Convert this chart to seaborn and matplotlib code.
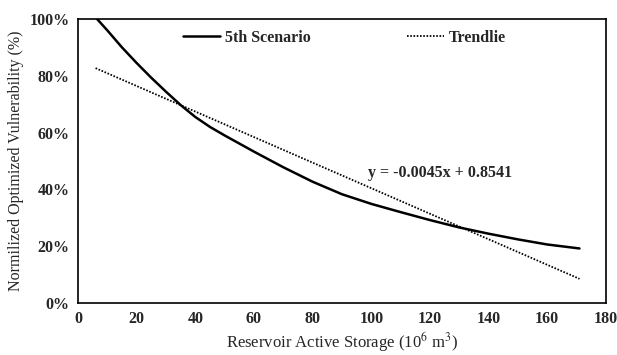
import matplotlib
matplotlib.use("Agg")
import matplotlib.pyplot as plt
import seaborn as sns
import pandas as pd
from matplotlib.ticker import MultipleLocator, PercentFormatter

sns.set_theme(style="white")
plt.rcParams['font.family'] = ['Liberation Serif', 'DejaVu Serif']
plt.rcParams['mathtext.fontset'] = 'stix'

storage = [6.5, 10, 15, 20, 25, 30, 35, 40, 45, 50, 60, 70, 80, 90, 100, 110, 120, 130, 140, 150, 160, 171]
vulner = [1.00, 0.960, 0.900, 0.845, 0.793, 0.744, 0.697, 0.655, 0.620, 0.590, 0.533, 0.478, 0.427,
          0.383, 0.349, 0.320, 0.292, 0.266, 0.244, 0.224, 0.206, 0.192]
trend_x = [6, 171]
trend_y = [0.827, 0.085]
equation = "y = -0.0045x + 0.8541"

df = pd.DataFrame({"x": storage, "y": vulner})
dt = pd.DataFrame({"x": trend_x, "y": trend_y})

fig = plt.figure(figsize=(6.17, 3.55), dpi=100)
ax = fig.add_axes([0.1264, 0.1465, 0.8556, 0.80])

sns.lineplot(data=df, x="x", y="y", ax=ax, color="black", linewidth=1.8, label="5th Scenario")
sns.lineplot(data=dt, x="x", y="y", ax=ax, color="black", linewidth=1.3, linestyle=(0, (0.9, 0.9)), label="Trendlie")

ax.set_xlim(0, 180)
ax.set_ylim(0, 1.0)
ax.xaxis.set_major_locator(MultipleLocator(20))
ax.xaxis.set_minor_locator(MultipleLocator(4))
ax.yaxis.set_major_locator(MultipleLocator(0.2))
ax.yaxis.set_minor_locator(MultipleLocator(0.04))
ax.yaxis.set_major_formatter(PercentFormatter(1.0, decimals=0))
ax.tick_params(axis="both", which="both", direction="in", color="black", width=1)
ax.tick_params(axis="both", which="major", length=5, labelsize=11.5, pad=6)
ax.tick_params(axis="both", which="minor", length=3)
ax.tick_params(top=False, right=False, which="both")
for lab in ax.get_xticklabels() + ax.get_yticklabels():
    lab.set_fontweight("bold")
for s in ax.spines.values():
    s.set_color("black")
    s.set_linewidth(1.2)

ax.set_xlabel("Reservoir Active Storage (10$^{6}$ m$^{3}$)", fontsize=12, labelpad=2)
ax.set_ylabel("Normilized Optimized Vulnerability (%)", fontsize=11.5, labelpad=4)

ax.text(99, 0.458, equation, fontsize=11.5, fontweight="bold", va="center")

leg = ax.legend(loc="upper center", bbox_to_anchor=(0.505, 1.012), ncol=2, frameon=False,
                fontsize=11.5, handlelength=2.3, columnspacing=6.0, handletextpad=0.35)
for t in leg.get_texts():
    t.set_fontweight("bold")

fig.savefig("out.png", dpi=100)
